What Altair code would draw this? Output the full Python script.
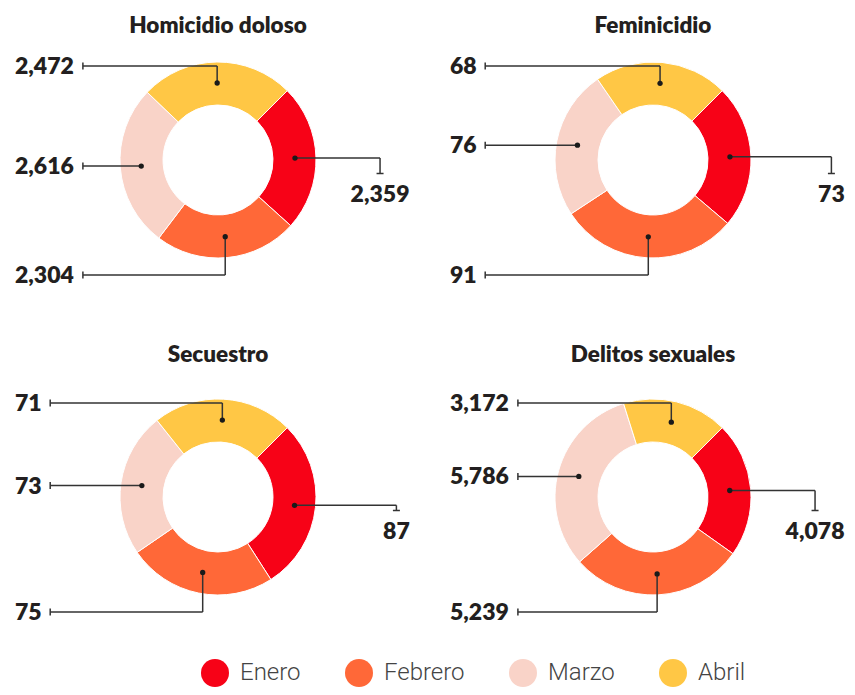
import math
import altair as alt
import pandas as pd

# ---------------- data ----------------
charts = ["Homicidio doloso", "Feminicidio", "Secuestro", "Delitos sexuales"]
months = ["Enero", "Febrero", "Marzo", "Abril"]
homicidio = [2359, 2304, 2616, 2472]
feminicidio = [73, 91, 76, 68]
secuestro = [87, 75, 73, 71]
delitos = [4078, 5239, 5786, 3172]
colors = ["#f70217", "#ff6838", "#f9d3c8", "#ffc745"]

series = [homicidio, feminicidio, secuestro, delitos]

# ---------------- layout (page pixels) ----------------
W, H = 839, 679
centers = [(218, 160), (653, 160), (218, 497), (653, 497)]
title_y = [33, 33, 362, 362]
START = math.pi / 4
R_OUT, R_IN, R_DOT = 98, 55, 77
INK = "#231f20"
FONT = "Lato"
NUM_W = 800


def text_w(s):
    return sum(5.5 if c == "," else 13.6 for c in s)


arc_rows, dot_rows, seg_rows, lab_left, lab_center, title_rows = [], [], [], [], [], []
for ci, (name, vals) in enumerate(zip(charts, series)):
    cx, cy = centers[ci]
    total = sum(vals)
    labels = {m: f"{v:,}" for m, v in zip(months, vals)}
    left_w = max(text_w(labels[m]) for m in ["Febrero", "Marzo", "Abril"])
    xl = cx - 203 + left_w + 8
    title_rows.append(dict(x=cx, y=title_y[ci], text=name))
    cum = 0
    for m, v in zip(months, vals):
        f0 = cum / total
        cum += v
        f1 = cum / total
        arc_rows.append(dict(chart=name, month=m, value=v, f0=f0, f1=f1, cx=cx, cy=cy))
        a = START + 2 * math.pi * (f0 + f1) / 2
        dx = cx + R_DOT * math.sin(a)
        dy = cy - R_DOT * math.cos(a)
        dot_rows.append(dict(x=dx, y=dy))
        lab = labels[m]
        if m == "Abril":
            ly = cy - 94
            segs = [(dx, dy, dx, ly), (dx, ly, xl, ly), (xl, ly - 3.5, xl, ly + 3.5)]
            lab_left.append(dict(x=cx - 203, y=ly + 8, text=lab))
        elif m == "Marzo":
            ly = dy
            segs = [(dx, ly, xl, ly), (xl, ly - 3.5, xl, ly + 3.5)]
            lab_left.append(dict(x=cx - 203, y=ly + 8, text=lab))
        elif m == "Febrero":
            ly = cy + 115
            segs = [(dx, dy, dx, ly), (dx, ly, xl, ly), (xl, ly - 3.5, xl, ly + 3.5)]
            lab_left.append(dict(x=cx - 203, y=ly + 8, text=lab))
        else:  # Enero
            w = text_w(lab)
            xr = cx + 192 - w / 2
            ey = cy + 13.5
            segs = [(dx, dy, xr, dy), (xr, dy, xr, ey), (xr - 3.5, ey, xr + 3.5, ey)]
            lab_center.append(dict(x=xr, y=cy + 41.5, text=lab))
        for s in segs:
            seg_rows.append(dict(x=s[0], y=s[1], x2=s[2], y2=s[3]))

arcs = pd.DataFrame(arc_rows)
dots = pd.DataFrame(dot_rows)
segs_df = pd.DataFrame(seg_rows)
left_df = pd.DataFrame(lab_left)
center_df = pd.DataFrame(lab_center)
titles_df = pd.DataFrame(title_rows)

xs = alt.Scale(domain=[8, 8 + W], nice=False, zero=False)
ys = alt.Scale(domain=[8, 8 + H], nice=False, zero=False, reverse=True)

arc_layer = alt.Chart(arcs).mark_arc(
    outerRadius=R_OUT, innerRadius=R_IN, stroke="white", strokeWidth=1
).encode(
    x=alt.X("cx:Q", scale=xs, axis=None),
    y=alt.Y("cy:Q", scale=ys, axis=None),
    theta=alt.Theta("f0:Q", scale=alt.Scale(domain=[0, 1], range=[START, START + 2 * math.pi])),
    theta2="f1:Q",
    color=alt.Color(
        "month:N",
        scale=alt.Scale(domain=months, range=colors),
        legend=alt.Legend(
            orient="none", legendX=193, legendY=651, direction="horizontal",
            title=None, symbolType="circle", symbolSize=784, symbolStrokeWidth=0,
            symbolOpacity=1, labelFont="Roboto", labelFontSize=24, labelFontWeight=300,
            labelColor="#444444", labelOffset=11, columnPadding=44, padding=0,
        ),
    ),
)

rule_layer = alt.Chart(segs_df).mark_rule(color="#333333", strokeWidth=1.5).encode(
    x=alt.X("x:Q", scale=xs, axis=None),
    y=alt.Y("y:Q", scale=ys, axis=None),
    x2="x2:Q",
    y2="y2:Q",
)

dot_layer = alt.Chart(dots).mark_circle(size=28, color="#1a1a1a", opacity=1).encode(
    x=alt.X("x:Q", scale=xs, axis=None),
    y=alt.Y("y:Q", scale=ys, axis=None),
)

left_text = alt.Chart(left_df).mark_text(
    align="left", baseline="alphabetic", font=FONT, fontSize=23, fontWeight=NUM_W, color=INK
).encode(
    x=alt.X("x:Q", scale=xs, axis=None),
    y=alt.Y("y:Q", scale=ys, axis=None),
    text="text:N",
)

center_text = alt.Chart(center_df).mark_text(
    align="center", baseline="alphabetic", font=FONT, fontSize=23, fontWeight=NUM_W, color=INK
).encode(
    x=alt.X("x:Q", scale=xs, axis=None),
    y=alt.Y("y:Q", scale=ys, axis=None),
    text="text:N",
)

title_text = alt.Chart(titles_df).mark_text(
    align="center", baseline="alphabetic", font=FONT, fontSize=22.5, fontWeight=NUM_W, color=INK
).encode(
    x=alt.X("x:Q", scale=xs, axis=None),
    y=alt.Y("y:Q", scale=ys, axis=None),
    text="text:N",
)

chart = alt.layer(
    arc_layer, rule_layer, dot_layer, left_text, center_text, title_text
).properties(
    width=W, height=H, padding=0, autosize=alt.AutoSizeParams(type="none"),
    background="white",
).configure_view(strokeWidth=0)

chart.save("out.html", embed_options={"renderer": "svg", "actions": False})
